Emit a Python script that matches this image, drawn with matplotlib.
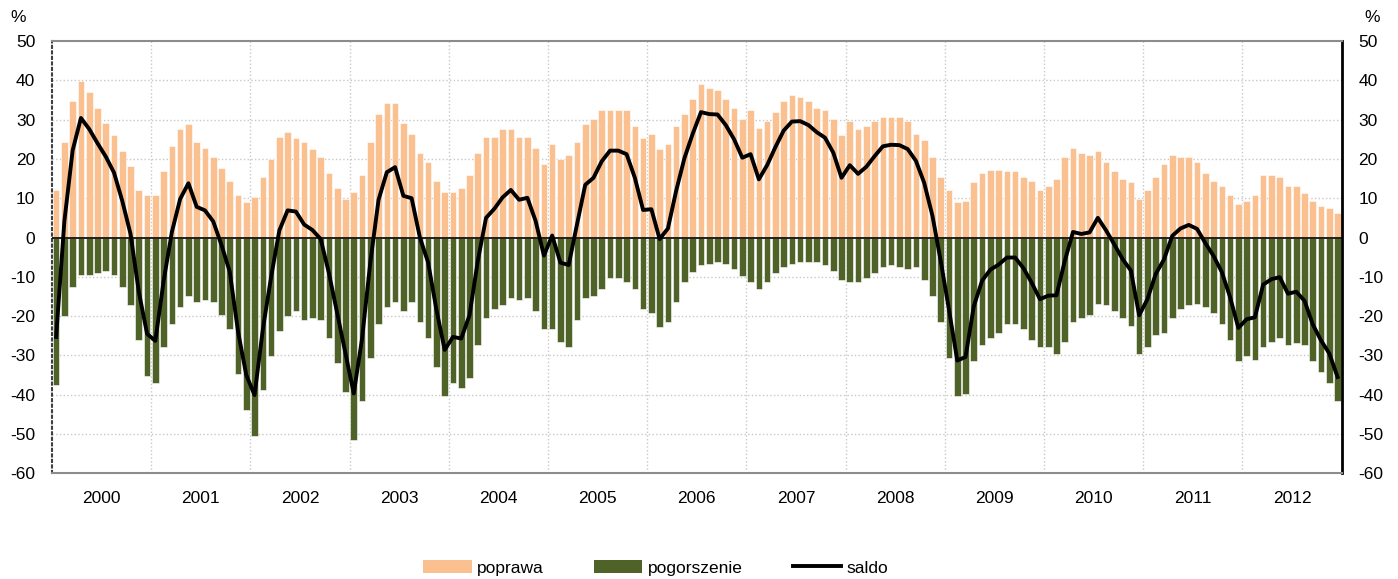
import numpy as np
import matplotlib.pyplot as plt
from matplotlib.patches import Patch
from matplotlib.lines import Line2D

plt.rcParams['font.family'] = ['Liberation Sans', 'DejaVu Sans']
plt.rcParams['axes.unicode_minus'] = False

# lata i dane miesięczne (styczeń 2000 - grudzień 2012)
lata = ['2000', '2001', '2002', '2003', '2004', '2005', '2006',
        '2007', '2008', '2009', '2010', '2011', '2012']

poprawa = [
    12.2, 24.2, 34.8, 39.9, 37.1, 33.0, 29.2, 26.0, 21.9, 18.2, 12.2, 10.8,
    10.8, 16.8, 23.3, 27.5, 28.8, 24.2, 22.8, 20.5, 17.7, 14.5, 10.8, 9.0,
    10.4, 15.5, 20.1, 25.5, 26.9, 25.2, 24.2, 22.4, 20.5, 16.4, 12.7, 9.9,
    11.7, 15.9, 24.2, 31.5, 34.3, 34.3, 29.2, 26.4, 21.4, 19.1, 14.5, 11.7,
    11.7, 12.7, 15.9, 21.4, 25.5, 25.5, 27.5, 27.5, 25.5, 25.5, 22.8, 18.6,
    23.7, 20.1, 20.9, 24.2, 28.8, 30.2, 32.5, 32.5, 32.5, 32.5, 28.3, 25.2,
    26.4, 22.4, 23.7, 28.3, 31.5, 35.3, 39.0, 38.1, 37.5, 35.3, 33.0, 30.2,
    32.5, 27.9, 29.7, 32.0, 34.8, 36.2, 35.8, 34.8, 33.0, 32.5, 30.2, 26.0,
    29.7, 27.5, 28.3, 29.7, 30.6, 30.6, 30.6, 29.7, 26.4, 24.7, 20.5, 15.4,
    12.2, 9.0, 9.4, 14.0, 16.4, 17.3, 17.3, 16.8, 16.8, 15.4, 14.5, 12.2,
    13.1, 15.0, 20.5, 22.8, 21.4, 20.9, 21.9, 19.1, 16.8, 15.0, 14.0, 9.9,
    12.2, 15.4, 18.6, 20.9, 20.5, 20.5, 19.1, 16.3, 14.5, 13.1, 10.8, 8.5,
    9.4, 10.8, 15.9, 15.9, 15.4, 13.1, 13.1, 11.3, 9.4, 8.1, 7.5, 6.2,
]

pogorszenie = [
    -37.5, -20.0, -12.6, -9.5, -9.5, -9.0, -8.6, -9.5, -12.6, -17.3, -26.0, -35.3,
    -37.1, -27.9, -21.9, -17.7, -15.0, -16.4, -15.9, -16.4, -19.6, -23.2, -34.7, -44.0,
    -50.5, -38.9, -30.2, -23.7, -20.0, -18.6, -20.9, -20.5, -20.9, -25.5, -32.0, -39.3,
    -51.4, -41.7, -30.6, -21.9, -17.7, -16.4, -18.6, -16.4, -21.4, -25.5, -32.9, -40.3,
    -37.0, -38.4, -35.7, -27.4, -20.5, -18.2, -17.3, -15.4, -15.9, -15.4, -18.6, -23.2,
    -23.2, -26.5, -27.9, -20.9, -15.4, -15.0, -13.1, -10.4, -10.4, -11.3, -13.1, -18.2,
    -19.2, -22.8, -21.4, -16.4, -11.3, -8.9, -7.1, -6.7, -6.2, -6.7, -8.0, -9.9,
    -11.3, -13.1, -11.3, -9.0, -7.6, -6.7, -6.2, -6.2, -6.2, -7.1, -8.6, -10.8,
    -11.3, -11.3, -10.3, -9.0, -7.6, -7.1, -7.6, -8.0, -7.6, -10.8, -15.0, -21.4,
    -30.6, -40.3, -39.8, -31.5, -27.4, -25.5, -24.2, -21.9, -21.9, -23.2, -26.0, -27.9,
    -27.9, -29.7, -26.5, -21.4, -20.5, -19.6, -16.9, -17.3, -18.6, -20.5, -22.4, -29.7,
    -27.9, -24.7, -24.2, -20.5, -18.2, -17.3, -16.9, -17.7, -19.2, -21.9, -26.0, -31.5,
    -30.2, -31.1, -27.9, -26.5, -25.5, -27.4, -26.9, -27.4, -31.5, -34.3, -37.0, -41.7,
]

saldo = [
    -25.3, 4.2, 22.2, 30.4, 27.6, 24.0, 20.6, 16.5, 9.3, 0.9, -13.8, -24.5,
    -26.3, -11.1, 1.4, 9.8, 13.8, 7.8, 6.9, 4.1, -1.9, -8.7, -23.9, -35.0,
    -40.1, -23.4, -10.1, 1.8, 6.9, 6.6, 3.3, 1.9, -0.4, -9.1, -19.3, -29.4,
    -39.7, -25.8, -6.4, 9.6, 16.6, 17.9, 10.6, 10.0, 0.0, -6.4, -18.4, -28.6,
    -25.3, -25.7, -19.8, -6.0, 5.0, 7.3, 10.2, 12.1, 9.6, 10.1, 4.2, -4.6,
    0.5, -6.4, -7.0, 3.3, 13.4, 15.2, 19.4, 22.1, 22.1, 21.2, 15.2, 7.0,
    7.2, -0.4, 2.3, 11.9, 20.2, 26.4, 31.9, 31.4, 31.3, 28.6, 25.0, 20.3,
    21.2, 14.8, 18.4, 23.0, 27.2, 29.5, 29.6, 28.6, 26.8, 25.4, 21.6, 15.2,
    18.4, 16.2, 18.0, 20.7, 23.2, 23.6, 23.5, 22.5, 19.5, 13.9, 5.5, -6.0,
    -18.4, -31.3, -30.4, -17.5, -11.0, -8.2, -6.9, -5.1, -5.1, -7.8, -11.5, -15.7,
    -14.8, -14.7, -6.0, 1.4, 0.9, 1.3, 5.0, 1.8, -1.8, -5.5, -8.4, -19.8,
    -15.7, -9.3, -5.6, 0.4, 2.3, 3.2, 2.2, -1.4, -4.7, -8.8, -15.2, -23.0,
    -20.8, -20.3, -12.0, -10.6, -10.1, -14.3, -13.8, -16.1, -22.1, -26.2, -29.5, -35.5,
]

kolor_poprawa = '#FAC090'
kolor_pogorszenie = '#4F6228'

x = np.arange(len(poprawa))

fig = plt.figure(figsize=(13.98, 5.79), dpi=100)
ax = fig.add_axes([52 / 1398, 1 - 473.3 / 579, (1341.7 - 52) / 1398, (473.3 - 41) / 579])

ax.bar(x, poprawa, width=0.8, color=kolor_poprawa, edgecolor='white', linewidth=0.4, zorder=2)
ax.bar(x, pogorszenie, width=0.8, color=kolor_pogorszenie, edgecolor='white', linewidth=0.4, zorder=2)
ax.axhline(0, color='black', linewidth=1.2, zorder=3)
ax.plot(x, saldo, color='black', linewidth=2.8, zorder=4)

ax.set_xlim(-0.5, len(x) - 0.5)
ax.set_ylim(-60, 50)
ax.set_yticks(np.arange(-60, 51, 10))

# siatka
granice = np.arange(12, len(x), 12) - 0.5
for g in granice:
    ax.axvline(g, color='#c8c8c8', linestyle=':', linewidth=1, zorder=1)
for v in np.arange(-50, 50, 10):
    ax.axhline(v, color='#c8c8c8', linestyle=':', linewidth=1, zorder=1)

# etykiety lat pośrodku roku
ax.set_xticks(np.arange(len(lata)) * 12 + 5.5)
ax.set_xticklabels(lata)
ax.tick_params(axis='x', length=0, pad=13, labelsize=12.5)
ax.tick_params(axis='y', length=0, pad=12, labelsize=12.5)

for s in ['top', 'bottom']:
    ax.spines[s].set_color('#8c8c8c')
    ax.spines[s].set_linewidth(1.5)
ax.spines['left'].set_color('#404040')
ax.spines['left'].set_linestyle(':')
ax.spines['left'].set_linewidth(1.5)
ax.spines['right'].set_color('black')
ax.spines['right'].set_linewidth(2)

ax2 = ax.twinx()
ax2.set_ylim(-60, 50)
ax2.set_yticks(np.arange(-60, 51, 10))
ax2.tick_params(axis='y', length=0, pad=12, labelsize=12.5)
for s in ax2.spines.values():
    s.set_visible(False)

fig.text(18 / 1398, 1 - 17 / 579, '%', fontsize=12.5, ha='center', va='center')
fig.text(1372 / 1398, 1 - 17 / 579, '%', fontsize=12.5, ha='center', va='center')

uchwyty = [Patch(facecolor=kolor_poprawa, edgecolor='none'),
           Patch(facecolor=kolor_pogorszenie, edgecolor='none'),
           Line2D([0], [0], color='black', linewidth=2.8)]
fig.legend(uchwyty, ['poprawa', 'pogorszenie', 'saldo'], loc='center',
           bbox_to_anchor=(0.469, 0.019), ncol=3, frameon=False, fontsize=12.5,
           handlelength=2.8, handleheight=0.75, handletextpad=0.3, columnspacing=2.9)

fig.savefig('out.png', dpi=100)
